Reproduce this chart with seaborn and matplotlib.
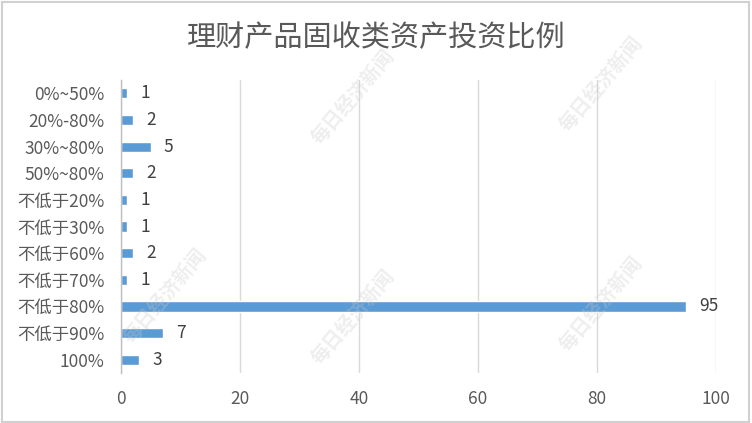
import matplotlib
matplotlib.use("Agg")
import matplotlib.pyplot as plt
import seaborn as sns
import pandas as pd

categories = ["0%~50%", "20%-80%", "30%~80%", "50%~80%", "不低于20%", "不低于30%",
              "不低于60%", "不低于70%", "不低于80%", "不低于90%", "100%"]
values = [1, 2, 5, 2, 1, 1, 2, 1, 95, 7, 3]
x_ticks = [0, 20, 40, 60, 80, 100]
title = "理财产品固收类资产投资比例"
watermark = "每日经济新闻"

sns.set_theme(style="white")
plt.rcParams['font.family'] = ['Noto Sans CJK SC', 'DejaVu Sans']

df = pd.DataFrame({"cat": categories, "val": values})

fig = plt.figure(figsize=(7.52, 4.23), dpi=100)
ax = fig.add_axes([0.161, 0.118, 0.791, 0.693])
sns.barplot(data=df, y="cat", x="val", orient="h", color="#5B9BD5",
            saturation=1, width=0.38, ax=ax)

ax.set_xlim(0, 100)
ax.set_xticks(x_ticks)
ax.set_xlabel("")
ax.set_ylabel("")
ax.grid(axis="x", color="#D9D9D9", linewidth=1)
ax.set_axisbelow(True)
for s in ["top", "right", "bottom"]:
    ax.spines[s].set_visible(False)
ax.spines["left"].set_color("#BFBFBF")
ax.spines["left"].set_linewidth(1)
ax.tick_params(axis="both", length=0, labelsize=12.5, colors="#595959")
ax.tick_params(axis="y", pad=12)
ax.tick_params(axis="x", pad=12)

for i, v in enumerate(values):
    ax.text(v + 2.2, i, str(v), va="center", ha="left", fontsize=12.5, color="#404040")

fig.text(0.5, 0.91, title, ha="center", va="center", fontsize=21, color="#595959")

for (wx, wy) in [(0.47, 0.77), (0.80, 0.80), (0.47, 0.25), (0.80, 0.28), (0.22, 0.30)]:
    fig.text(wx, wy, watermark, ha="center", va="center", rotation=50,
             fontsize=14, color="#C8C8C8", alpha=0.3, fontweight="bold")

border = plt.Rectangle((0.002, 0.002), 0.994, 0.994, transform=fig.transFigure,
                       fill=False, edgecolor="#D0D0D0", linewidth=1.5)
fig.patches.append(border)

fig.savefig("out.png", dpi=100)
